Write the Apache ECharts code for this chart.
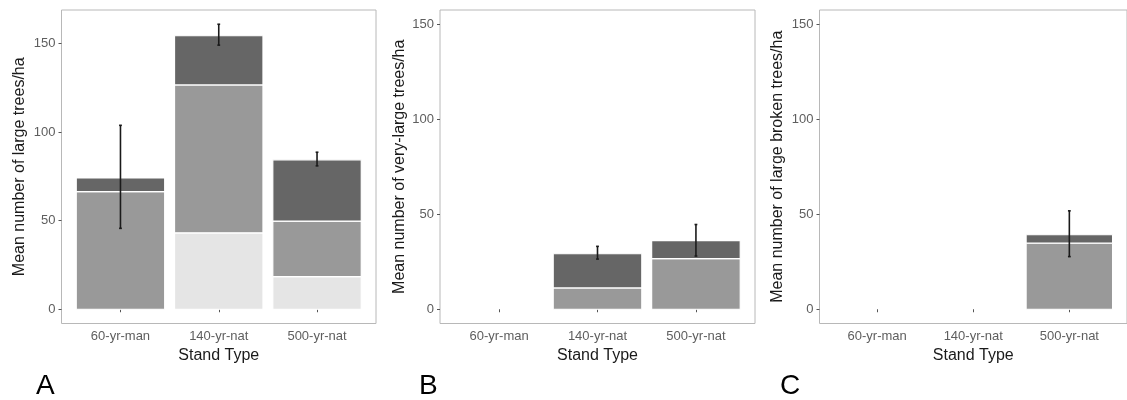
<!DOCTYPE html>
<html>
<head>
<meta charset="utf-8">
<script src="https://cdn.jsdelivr.net/npm/echarts@6/dist/echarts.min.js"></script>
<style>
html,body{margin:0;padding:0;background:#fff;}
#chart{width:1127px;height:400px;}
</style>
</head>
<body>
<div id="chart"></div>
<script>
// ---- data ----
const categories = ['60-yr-man', '140-yr-nat', '500-yr-nat'];
const xPositions = [1, 2, 3];
const yTicks = [0, 50, 100, 150];
const panelLetters = ['A', 'B', 'C'];
const yTitles = ['Mean number of large trees/ha', 'Mean number of very-large trees/ha', 'Mean number of large broken trees/ha'];
const xTitle = 'Stand Type';

// Panel A (large trees): stacked segments bottom -> top
const aLight  = [0, 43.2, 18.4];
const aMedium = [66.5, 83.5, 31.4];
const aDark   = [7.7, 27.8, 34.6];
const aErrLow  = [45.7, 149.2, 81.0];
const aErrHigh = [103.9, 161.0, 88.7];

// Panel B (very-large trees)
const bLight  = [0, 0, 0];
const bMedium = [0, 11.2, 26.6];
const bDark   = [0, 18.0, 9.5];
const bErrLow  = [null, 26.4, 28.0];
const bErrHigh = [null, 33.1, 44.6];

// Panel C (large broken trees)
const cLight  = [0, 0, 0];
const cMedium = [0, 0, 34.8];
const cDark   = [0, 0, 4.4];
const cErrLow  = [null, null, 27.7];
const cErrHigh = [null, null, 51.8];

// ---- styling / layout ----
const FONT = '"Liberation Sans", Arial, sans-serif';
const segColors = ['#e5e5e5', '#999999', '#666666'];
const BAR_WIDTH = 0.9; // in axis units (ggplot default)
const grids = [
  {left: 61.5, top: 10, width: 314.5, height: 313.5},
  {left: 440, top: 10, width: 315, height: 313.5},
  {left: 819.5, top: 10, width: 315, height: 313.5}
];
const yRanges = [[-8.05, 169.05], [-7.5, 157.5], [-7.5, 157.5]];
const nameGaps = [34, 32, 34];
const panels = [
  {segs: [aLight, aMedium, aDark], lo: aErrLow, hi: aErrHigh},
  {segs: [bLight, bMedium, bDark], lo: bErrLow, hi: bErrHigh},
  {segs: [cLight, cMedium, cDark], lo: cErrLow, hi: cErrHigh}
];
const letterPos = [{left: 36, top: 372}, {left: 419, top: 372}, {left: 780, top: 372}];

const option = {
  animation: false,
  backgroundColor: '#ffffff',
  title: panelLetters.map((t, i) => ({
    text: t, left: letterPos[i].left, top: letterPos[i].top, padding: 0,
    textStyle: {fontFamily: FONT, fontSize: 28, fontWeight: 'normal', color: '#000'}
  })),
  grid: grids.map(g => Object.assign({show: true, borderColor: '#b8b8b8', borderWidth: 1, backgroundColor: 'transparent'}, g)),
  xAxis: grids.map((g, i) => ({
    type: 'value', gridIndex: i, min: 0.4, max: 3.6,
    name: xTitle, nameLocation: 'middle', nameGap: 22,
    nameTextStyle: {fontFamily: FONT, fontSize: 16, color: '#1a1a1a'},
    axisLine: {show: false},
    splitLine: {show: false},
    axisTick: {show: true, length: 3, customValues: xPositions, lineStyle: {color: '#555'}},
    axisLabel: {customValues: xPositions, margin: 6, fontFamily: FONT, fontSize: 13, color: '#5e5e5e',
      formatter: v => categories[Math.round(v) - 1]}
  })),
  yAxis: grids.map((g, i) => ({
    type: 'value', gridIndex: i, min: yRanges[i][0], max: yRanges[i][1],
    name: yTitles[i], nameLocation: 'middle', nameGap: nameGaps[i], nameRotate: 90,
    nameTextStyle: {fontFamily: FONT, fontSize: 16, color: '#1a1a1a'},
    axisLine: {show: false},
    splitLine: {show: false},
    axisTick: {show: true, length: 3, customValues: yTicks, lineStyle: {color: '#555'}},
    axisLabel: {customValues: yTicks, margin: 6, fontFamily: FONT, fontSize: 13, color: '#5e5e5e'}
  })),
  series: []
};

panels.forEach((p, i) => {
  // build stacked rows: [x, base, top, segmentIndex]
  const rows = [];
  xPositions.forEach((x, j) => {
    let base = 0;
    p.segs.forEach((arr, s) => {
      const v = arr[j];
      if (v > 0) rows.push([x, base, base + v, s]);
      base += v;
    });
  });
  option.series.push({
    type: 'custom', xAxisIndex: i, yAxisIndex: i, z: 5,
    data: rows,
    renderItem: function (params, api) {
      const x = api.value(0);
      const p0 = api.coord([x - BAR_WIDTH / 2, api.value(2)]);
      const p1 = api.coord([x + BAR_WIDTH / 2, api.value(1)]);
      return {
        type: 'rect',
        shape: {x: p0[0], y: p0[1], width: p1[0] - p0[0], height: p1[1] - p0[1]},
        style: {fill: segColors[api.value(3)], stroke: '#ffffff', lineWidth: 1.2}
      };
    }
  });
  option.series.push({
    type: 'custom', xAxisIndex: i, yAxisIndex: i, z: 10,
    data: p.lo.map((v, j) => [xPositions[j], v, p.hi[j]]).filter(d => d[1] != null),
    renderItem: function (params, api) {
      const x = api.value(0);
      const lo = api.coord([x, api.value(1)]);
      const hi = api.coord([x, api.value(2)]);
      const cap = 1.4;
      const style = {stroke: '#1a1a1a', lineWidth: 1.6};
      return {
        type: 'group',
        children: [
          {type: 'line', shape: {x1: lo[0], y1: lo[1], x2: hi[0], y2: hi[1]}, style: style},
          {type: 'line', shape: {x1: lo[0] - cap, y1: lo[1], x2: lo[0] + cap, y2: lo[1]}, style: style},
          {type: 'line', shape: {x1: hi[0] - cap, y1: hi[1], x2: hi[0] + cap, y2: hi[1]}, style: style}
        ]
      };
    }
  });
});

const chart = echarts.init(document.getElementById('chart'), null, {renderer: 'canvas'});
chart.setOption(option);
</script>
</body>
</html>
